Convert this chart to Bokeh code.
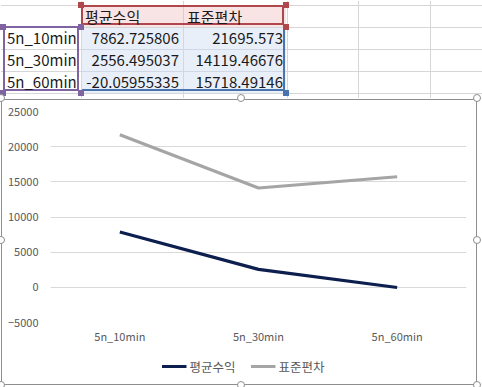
from bokeh.plotting import figure
from bokeh.models import Range1d, FixedTicker, Legend, LegendItem, Div
from bokeh.layouts import column
from bokeh.embed import file_html
from bokeh.resources import INLINE

# ---- data ----
categories = ["5n_10min", "5n_30min", "5n_60min"]
series_names = ["평균수익", "표준편차"]
mean_return = [7862.725806, 2556.495037, -20.05955335]
std_dev = [21695.573, 14119.46676, 15718.49146]
y_ticks = [-5000, 0, 5000, 10000, 15000, 20000, 25000]

FONT = "Noto Sans CJK KR"
C_MEAN = "#0d1f4f"
C_STD = "#a5a5a5"

# ---- spreadsheet part (HTML) ----
row_tops = [5, 25.5, 47.5, 69.5]
col_lines = [80, 182, 286, 357, 429]
grid_rows = [4, 26, 48, 70, 92]

parts = []
for y in grid_rows:
    parts.append(f'<div style="position:absolute;left:0;top:{y}px;width:482px;height:1px;background:#d6d6d6"></div>')
for x in col_lines:
    parts.append(f'<div style="position:absolute;left:{x}px;top:0;width:1px;height:97px;background:#d6d6d6"></div>')
parts.append('<div style="position:absolute;left:81px;top:5px;width:204px;height:21px;background:#f8e4e4"></div>')
parts.append('<div style="position:absolute;left:81px;top:27px;width:204px;height:65px;background:#e9eff8"></div>')
parts.append('<div style="position:absolute;left:182px;top:27px;width:1px;height:65px;background:#d0d8e6"></div>')
parts.append('<div style="position:absolute;left:81px;top:48px;width:204px;height:1px;background:#d0d8e6"></div>')
parts.append('<div style="position:absolute;left:81px;top:70px;width:204px;height:1px;background:#d0d8e6"></div>')
parts.append('<div style="position:absolute;left:182px;top:5px;width:1px;height:21px;background:#e3caca"></div>')
parts.append('<div style="position:absolute;left:80px;top:4px;width:203px;height:20px;border:2px solid #b0474c"></div>')
parts.append('<div style="position:absolute;left:2px;top:25px;width:76px;height:65px;border:2px solid #8064a2"></div>')
parts.append('<div style="position:absolute;left:81px;top:25px;width:203px;height:65px;border:2px solid #4a74b0;border-left:none;border-top:none"></div>')
for (x, y, c) in [(80, 4, "#b0474c"), (285, 4, "#b0474c"), (285, 26, "#b0474c"),
                  (2, 26, "#8064a2"), (80, 26, "#8064a2"), (2, 92, "#8064a2"), (80, 92, "#8064a2"),
                  (285, 92, "#4a74b0")]:
    parts.append(f'<div style="position:absolute;left:{x-3}px;top:{y-3}px;width:6px;height:6px;background:{c}"></div>')

txt = f"font-family:'{FONT}';font-size:15px;color:#1a1a1a;line-height:22px;white-space:nowrap;"
parts.append(f'<div style="position:absolute;left:84px;top:{row_tops[0]}px;{txt}">{series_names[0]}</div>')
parts.append(f'<div style="position:absolute;left:186px;top:{row_tops[0]}px;{txt}">{series_names[1]}</div>')
for i, cat in enumerate(categories):
    top = row_tops[i + 1]
    parts.append(f'<div style="position:absolute;left:6px;top:{top}px;{txt}">{cat}</div>')
    parts.append(f'<div style="position:absolute;left:78px;width:100px;text-align:right;top:{top}px;{txt}">{str(mean_return[i])}</div>')
    parts.append(f'<div style="position:absolute;left:182px;width:100px;text-align:right;top:{top}px;{txt}">{str(std_dev[i])}</div>')

# chart box border + handles (overlay)
parts.append('<div style="position:absolute;left:0px;top:98px;width:476px;height:286px;border:1px solid #8e8e8e;z-index:5;pointer-events:none"></div>')
for (x, y) in [(1, 98), (241, 98), (477, 98), (1, 240), (477, 240), (1, 385), (241, 385), (477, 385)]:
    parts.append(f'<div style="position:absolute;left:{x-5}px;top:{y-5}px;width:8px;height:8px;border:1px solid #8e8e8e;border-radius:50%;background:white;z-index:6;pointer-events:none"></div>')

html = ('<div style="position:relative;width:474px;height:90px;">'
        '<div style="position:absolute;left:-4px;top:-4px;width:482px;height:94px;">'
        + "".join(parts) + '</div></div>')
sheet = Div(text=html, width=474, height=90)

# ---- chart ----
p = figure(x_range=categories, y_range=Range1d(-5000, 25000),
           width=474, height=246, output_backend="svg", toolbar_location=None,
           min_border_left=50, min_border_right=8, min_border_top=11, min_border_bottom=23,
           background_fill_color="white", border_fill_color="white",
           outline_line_color=None)

r1 = p.line(categories, mean_return, line_color=C_MEAN, line_width=3.2)
r2 = p.line(categories, std_dev, line_color=C_STD, line_width=3.2)

p.xgrid.grid_line_color = None
p.ygrid.grid_line_color = "#d9d9d9"
p.yaxis.ticker = FixedTicker(ticks=y_ticks)
for ax in (p.xaxis[0], p.yaxis[0]):
    ax.axis_line_color = None
    ax.major_tick_line_color = None
    ax.minor_tick_line_color = None
    ax.major_tick_out = 0
    ax.major_tick_in = 0
    ax.minor_tick_out = 0
    ax.minor_tick_in = 0
    ax.major_label_text_font = FONT
    ax.major_label_text_font_size = "11px"
    ax.major_label_text_color = "#595959"
p.yaxis.major_label_standoff = 12
p.xaxis.major_label_standoff = 5

# ---- legend strip (separate figure, same series styles) ----
pl = figure(x_range=categories, y_range=Range1d(1e9, 2e9),
            width=444, height=40, output_backend="svg", toolbar_location=None,
            min_border=0, x_axis_type=None, y_axis_type=None,
            background_fill_color="white", border_fill_color="white",
            outline_line_color=None)
pl.grid.visible = False
l1 = pl.line(categories, mean_return, line_color=C_MEAN, line_width=3.2)
l2 = pl.line(categories, std_dev, line_color=C_STD, line_width=3.2)

legend = Legend(items=[LegendItem(label=series_names[0], renderers=[l1]),
                       LegendItem(label=series_names[1], renderers=[l2])],
                orientation="horizontal", location="center",
                label_text_font=FONT, label_text_font_size="12.5px", label_text_color="#595959",
                glyph_width=25, label_standoff=3, spacing=15, padding=4, margin=0,
                border_line_color=None, background_fill_alpha=0)
pl.add_layout(legend)

layout = column(sheet, p, pl, spacing=0)
open("out.html", "w").write(file_html(layout, INLINE))
